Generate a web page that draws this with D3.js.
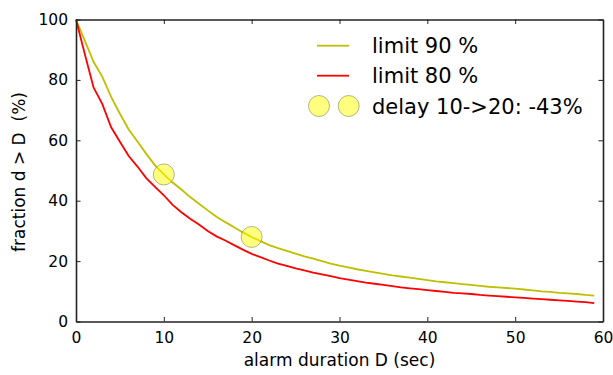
<!DOCTYPE html>
<html><head><meta charset="utf-8">
<script src="https://cdn.jsdelivr.net/npm/d3@7/dist/d3.min.js"></script>
<style>body{margin:0;background:#fff}svg{display:block}text{font-family:"DejaVu Sans",sans-serif;fill:#000}</style>
</head><body>
<script>
const durations = d3.range(0, 60);
const limit90 = [100,93,86,81,74.4,68.8,63.6,59.6,55.5,51.7,48.7,46,43.7,41.2,39,36.8,34.7,32.9,31.2,29.5,28,26.6,25.3,24.3,23.4,22.5,21.6,20.8,20,19.2,18.5,17.9,17.3,16.8,16.3,15.8,15.3,14.9,14.5,14.1,13.7,13.3,13,12.7,12.4,12.1,11.8,11.5,11.3,11.1,10.9,10.6,10.3,10.0,9.8,9.5,9.3,9.1,8.8,8.6];
const limit80 = [100,88.6,77.5,72,64.3,59.5,54.8,51.3,47.5,44.6,41.8,38.6,36.2,34,32.1,30,28.2,26.8,25.3,23.8,22.4,21.3,20.2,19.2,18.4,17.6,16.9,16.2,15.6,15,14.4,13.9,13.4,12.9,12.5,12.1,11.7,11.3,11,10.7,10.4,10.1,9.8,9.5,9.3,9.1,8.8,8.6,8.4,8.2,8,7.8,7.6,7.4,7.2,7,6.8,6.6,6.4,6.1];
const delayX = [10, 20];
const delayY = [48.7, 28];
const xTicks = [0,10,20,30,40,50,60];
const yTicks = [0,20,40,60,80,100];
const legendLabels = ["limit 90 %", "limit 80 %", "delay 10->20: -43%"];

const W = 613, H = 375;
const m = {left: 76, right: 10, top: 19.5, bottom: 53.5};
const svg = d3.select("body").append("svg").attr("width", W).attr("height", H);
const x = d3.scaleLinear().domain([0, 60]).range([m.left, W - m.right]);
const y = d3.scaleLinear().domain([0, 100]).range([H - m.bottom, m.top]);

const line = d3.line().x((d, i) => x(durations[i])).y(d => y(d));
svg.append("path").datum(limit90).attr("d", line).attr("fill", "none").attr("stroke", "#bfbf00").attr("stroke-width", 1.8);
svg.append("path").datum(limit80).attr("d", line).attr("fill", "none").attr("stroke", "#ff0000").attr("stroke-width", 1.8);

svg.selectAll("circle.delay").data(delayX).enter().append("circle")
  .attr("cx", d => x(d)).attr("cy", (d, i) => y(delayY[i])).attr("r", 10.5)
  .attr("fill", "rgba(255,255,0,0.5)").attr("stroke", "rgba(110,110,60,0.5)").attr("stroke-width", 1);

// axes (inward ticks on all sides)
const tk = 4.5;
const gB = svg.append("g").attr("transform", `translate(0,${y(0)})`)
  .call(d3.axisBottom(x).tickValues(xTicks).tickSizeInner(-tk).tickSizeOuter(0).tickPadding(10));
const gT = svg.append("g").attr("transform", `translate(0,${y(100)})`)
  .call(d3.axisTop(x).tickValues(xTicks).tickSizeInner(-tk).tickSizeOuter(0).tickFormat(""));
const gL = svg.append("g").attr("transform", `translate(${x(0)},0)`)
  .call(d3.axisLeft(y).tickValues(yTicks).tickSizeInner(-tk).tickSizeOuter(0).tickPadding(8));
const gR = svg.append("g").attr("transform", `translate(${x(60)},0)`)
  .call(d3.axisRight(y).tickValues(yTicks).tickSizeInner(-tk).tickSizeOuter(0).tickFormat(""));
[gB, gT, gL, gR].forEach(g => {
  g.select(".domain").attr("stroke", "#222").attr("stroke-width", 1.6);
  g.selectAll(".tick line").attr("stroke", "#222").attr("stroke-width", 1);
  g.selectAll(".tick text").style("font-family", "DejaVu Sans").style("font-size", "15.5px").attr("fill", "#111");
});

svg.append("text").attr("x", x(30)).attr("y", 366).attr("text-anchor", "middle")
  .style("font-size", "17px").text("alarm duration D (sec)");
svg.append("text").attr("transform", `translate(25,172) rotate(-90)`).attr("text-anchor", "middle")
  .style("font-size", "17px").style("white-space", "pre").attr("xml:space", "preserve").text("fraction d > D  (%)");

// legend
const lg = svg.append("g");
const rows = [45.7, 75.7, 106];
lg.append("line").attr("x1", 317).attr("x2", 349).attr("y1", rows[0]).attr("y2", rows[0]).attr("stroke", "#bfbf00").attr("stroke-width", 1.8);
lg.append("line").attr("x1", 317).attr("x2", 349).attr("y1", rows[1]).attr("y2", rows[1]).attr("stroke", "#ff0000").attr("stroke-width", 1.8);
[319, 348.7].forEach(cx => lg.append("circle").attr("cx", cx).attr("cy", rows[2]).attr("r", 10.5)
  .attr("fill", "rgba(255,255,0,0.5)").attr("stroke", "rgba(110,110,60,0.5)").attr("stroke-width", 1));
legendLabels.forEach((t, i) => lg.append("text").attr("x", 372).attr("y", rows[i]).attr("dy", "0.36em")
  .style("font-size", "21px").text(t));
</script>
</body></html>
